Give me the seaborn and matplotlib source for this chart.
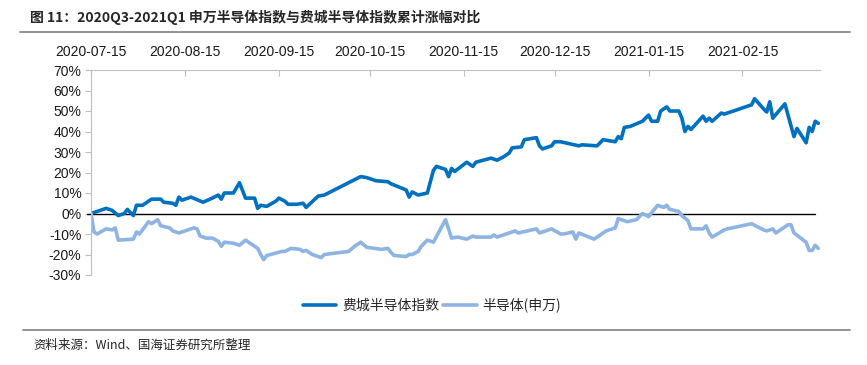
import matplotlib
matplotlib.use("Agg")
import matplotlib.pyplot as plt
import matplotlib.dates as mdates
from matplotlib.ticker import FuncFormatter, FixedLocator
from matplotlib.lines import Line2D
import seaborn as sns
import pandas as pd

# ---------------- data ----------------
sox_dates = [
    "2020-07-15", "2020-07-20", "2020-07-22", "2020-07-24", "2020-07-26", "2020-07-27",
    "2020-07-29", "2020-07-30", "2020-08-01", "2020-08-04", "2020-08-07", "2020-08-08",
    "2020-08-11", "2020-08-12", "2020-08-13", "2020-08-14", "2020-08-17", "2020-08-21",
    "2020-08-24", "2020-08-26", "2020-08-27", "2020-08-28", "2020-08-31", "2020-09-02",
    "2020-09-04", "2020-09-07", "2020-09-08", "2020-09-09", "2020-09-11", "2020-09-14",
    "2020-09-15", "2020-09-17", "2020-09-18", "2020-09-21", "2020-09-23", "2020-09-24",
    "2020-09-28", "2020-09-30", "2020-10-12", "2020-10-14", "2020-10-17", "2020-10-21",
    "2020-10-22", "2020-10-27", "2020-10-28", "2020-10-29", "2020-10-31", "2020-11-03",
    "2020-11-05", "2020-11-06", "2020-11-09", "2020-11-10", "2020-11-11", "2020-11-12",
    "2020-11-16", "2020-11-18", "2020-11-19", "2020-11-24", "2020-11-26", "2020-11-28",
    "2020-11-30", "2020-12-01", "2020-12-04", "2020-12-05", "2020-12-09", "2020-12-10",
    "2020-12-11", "2020-12-14", "2020-12-15", "2020-12-17", "2020-12-23", "2020-12-24",
    "2020-12-29", "2020-12-31", "2021-01-04", "2021-01-05", "2021-01-06", "2021-01-07",
    "2021-01-09", "2021-01-13", "2021-01-15", "2021-01-16", "2021-01-18", "2021-01-19",
    "2021-01-21", "2021-01-22", "2021-01-25", "2021-01-26", "2021-01-27", "2021-01-28",
    "2021-01-29", "2021-02-02", "2021-02-03", "2021-02-04", "2021-02-05", "2021-02-08",
    "2021-02-09", "2021-02-18", "2021-02-19", "2021-02-22", "2021-02-23", "2021-02-24",
    "2021-02-25", "2021-03-01", "2021-03-04", "2021-03-05", "2021-03-08", "2021-03-09",
    "2021-03-10", "2021-03-11", "2021-03-12",
]
sox_values = [
    0.0, 2.5, 1.5, -1.0, 0.0, 2.0,
    -1.0, 4.0, 4.0, 7.0, 7.0, 5.5,
    5.0, 4.0, 8.0, 6.5, 8.0, 5.5,
    7.5, 9.0, 7.0, 10.0, 10.0, 15.0,
    7.5, 7.5, 2.5, 4.0, 3.5, 6.0,
    7.5, 6.0, 4.5, 4.5, 5.0, 3.0,
    8.5, 9.0, 18.0, 17.5, 16.0, 15.5,
    14.5, 11.5, 8.0, 10.5, 9.0, 10.0,
    21.0, 23.0, 21.5, 18.0, 22.0, 20.5,
    25.0, 23.0, 25.0, 27.0, 26.0, 27.5,
    29.5, 32.0, 32.5, 36.0, 37.0, 33.0,
    31.5, 33.0, 35.0, 35.0, 33.0, 33.5,
    33.0, 36.0, 35.0, 37.5, 36.5, 42.0,
    42.5, 45.0, 48.0, 45.0, 45.0, 50.0,
    52.0, 50.0, 50.0, 46.5, 40.0, 42.5,
    41.0, 47.5, 45.0, 46.5, 45.0, 49.0,
    48.5, 53.0, 56.0, 51.0, 49.5, 54.5,
    46.5, 53.5, 37.5, 41.5, 34.5, 42.0,
    40.0, 45.0, 44.0,
]

sw_dates = [
    "2020-07-15", "2020-07-16", "2020-07-17", "2020-07-20", "2020-07-22", "2020-07-23",
    "2020-07-24", "2020-07-29", "2020-07-30", "2020-07-31", "2020-08-03", "2020-08-04",
    "2020-08-06", "2020-08-07", "2020-08-10", "2020-08-11", "2020-08-13", "2020-08-16",
    "2020-08-18", "2020-08-19", "2020-08-20", "2020-08-22", "2020-08-24", "2020-08-26",
    "2020-08-27", "2020-08-28", "2020-08-31", "2020-09-02", "2020-09-04", "2020-09-08",
    "2020-09-09", "2020-09-10", "2020-09-11", "2020-09-16", "2020-09-17", "2020-09-19",
    "2020-09-22", "2020-09-23", "2020-09-24", "2020-09-26", "2020-09-29", "2020-09-30",
    "2020-10-08", "2020-10-10", "2020-10-12", "2020-10-14", "2020-10-19", "2020-10-21",
    "2020-10-22", "2020-10-23", "2020-10-27", "2020-10-28", "2020-10-29", "2020-10-31",
    "2020-11-01", "2020-11-03", "2020-11-05", "2020-11-09", "2020-11-11", "2020-11-13",
    "2020-11-16", "2020-11-18", "2020-11-19", "2020-11-24", "2020-11-25", "2020-11-26",
    "2020-12-02", "2020-12-03", "2020-12-09", "2020-12-10", "2020-12-11", "2020-12-14",
    "2020-12-17", "2020-12-18", "2020-12-21", "2020-12-22", "2020-12-23", "2020-12-28",
    "2021-01-01", "2021-01-04", "2021-01-05", "2021-01-08", "2021-01-11", "2021-01-13",
    "2021-01-15", "2021-01-18", "2021-01-20", "2021-01-21", "2021-01-22", "2021-01-25",
    "2021-01-26", "2021-01-28", "2021-01-29", "2021-02-02", "2021-02-03", "2021-02-04",
    "2021-02-05", "2021-02-09", "2021-02-10", "2021-02-18", "2021-02-22", "2021-02-23",
    "2021-02-25", "2021-02-26", "2021-03-02", "2021-03-03", "2021-03-04", "2021-03-08",
    "2021-03-09", "2021-03-10", "2021-03-11", "2021-03-12",
]
sw_values = [
    0.0, -9.0, -10.0, -7.5, -8.0, -7.0,
    -13.0, -12.5, -9.0, -10.0, -4.0, -5.0,
    -3.0, -6.0, -7.0, -8.5, -9.5, -8.0,
    -7.0, -7.5, -11.0, -12.0, -12.0, -13.5,
    -16.0, -14.0, -14.5, -15.5, -13.0, -17.0,
    -20.0, -22.5, -20.5, -18.5, -18.5, -17.0,
    -17.5, -18.5, -18.0, -20.0, -21.5, -20.0,
    -18.5, -16.0, -14.0, -16.5, -17.5, -17.0,
    -19.0, -20.5, -21.0, -20.0, -20.0, -18.5,
    -16.0, -13.0, -14.0, -3.0, -12.0, -11.5,
    -12.5, -11.0, -11.5, -11.5, -10.5, -11.5,
    -8.5, -9.5, -7.5, -9.5, -9.0, -7.5,
    -10.0, -10.0, -9.0, -12.5, -9.5, -12.5,
    -8.5, -7.0, -2.5, -4.0, -3.0, 0.0,
    -1.5, 4.0, 3.0, 4.0, 2.0, 1.0,
    -1.0, -3.5, -7.5, -7.5, -6.0, -9.5,
    -11.5, -8.0, -7.5, -5.0, -8.0, -8.5,
    -7.5, -9.5, -5.5, -5.5, -9.5, -14.0,
    -18.0, -18.0, -15.5, -17.0,
]

series_names = ["费城半导体指数", "半导体(申万)"]
tick_labels = ["2020-07-15", "2020-08-15", "2020-09-15", "2020-10-15",
               "2020-11-15", "2020-12-15", "2021-01-15", "2021-02-15"]
y_ticks = [-30, -20, -10, 0, 10, 20, 30, 40, 50, 60, 70]

title_text = "图 11：2020Q3-2021Q1 申万半导体指数与费城半导体指数累计涨幅对比"
source_text = "资料来源：Wind、国海证券研究所整理"

# ---------------- table ----------------
df = pd.concat([
    pd.DataFrame({"date": pd.to_datetime(sox_dates), "value": [v / 100 for v in sox_values],
                  "series": series_names[0]}),
    pd.DataFrame({"date": pd.to_datetime(sw_dates), "value": [v / 100 for v in sw_values],
                  "series": series_names[1]}),
], ignore_index=True)

# ---------------- style ----------------
sns.set_style("white")
plt.rcParams["font.family"] = ["Liberation Sans", "Noto Sans CJK SC", "DejaVu Sans"]
cjk = ["Noto Sans CJK SC", "DejaVu Sans"]

colors = {series_names[0]: "#0070C0", series_names[1]: "#8DB4E2"}

fig = plt.figure(figsize=(8.67, 3.65), dpi=100)
ax = fig.add_axes([91 / 867, 1 - 275 / 365, (820 - 91) / 867, (275 - 70) / 365])

sns.lineplot(data=df, x="date", y="value", hue="series", palette=colors,
             hue_order=series_names, linewidth=2.6, ax=ax, legend=False,
             estimator=None, sort=True)

ax.axhline(0, color="black", linewidth=1.0, zorder=1, xmin=-0.005, xmax=0.993, clip_on=False)

x0 = pd.Timestamp("2020-07-15")
x1 = pd.Timestamp("2021-03-12 14:00")
ax.set_xlim(x0, x1)
ax.set_ylim(-0.30, 0.70)

ax.xaxis.tick_top()
ax.xaxis.set_major_locator(FixedLocator(mdates.date2num(pd.to_datetime(tick_labels))))
ax.xaxis.set_major_formatter(FuncFormatter(lambda v, p: mdates.num2date(v).strftime("%Y-%m-%d")))
ax.tick_params(axis="x", which="both", top=True, bottom=False, direction="in",
               length=4, width=0.8, color="#BFBFBF", labelsize=10, pad=8, labelcolor="#1a1a1a")

ax.set_yticks([t / 100 for t in y_ticks])
ax.yaxis.set_major_formatter(FuncFormatter(lambda v, p: f"{v * 100:.0f}%"))
ax.tick_params(axis="y", left=True, direction="out", length=4, width=0.8,
               color="#BFBFBF", labelsize=10, pad=3, labelcolor="#1a1a1a")

for s in ["right", "bottom"]:
    ax.spines[s].set_visible(False)
for s in ["top", "left"]:
    ax.spines[s].set_color("#BFBFBF")
    ax.spines[s].set_linewidth(0.8)

ax.set_xlabel("")
ax.set_ylabel("")
ax.grid(False)

# legend
handles = [Line2D([0], [0], color=colors[n], linewidth=2.6) for n in series_names]
fig.legend(handles, series_names, loc="center", bbox_to_anchor=(432 / 867, 1 - 305 / 365),
           ncol=2, frameon=False, handlelength=2.4, handletextpad=0.4, columnspacing=0.3,
           prop={"family": cjk, "size": 10})

# title, rules, source
fig.text(30 / 867, 1 - 17 / 365, title_text, ha="left", va="center",
         fontsize=10, fontweight="bold", family=cjk)
fig.add_artist(Line2D([20 / 867, 850 / 867], [1 - 32 / 365, 1 - 32 / 365],
                      color="#808080", linewidth=1.2))
fig.add_artist(Line2D([23 / 867, 850 / 867], [1 - 330 / 365, 1 - 330 / 365],
                      color="#808080", linewidth=1.2))
fig.text(33 / 867, 1 - 345 / 365, source_text, ha="left", va="center",
         fontsize=9, family=cjk)

fig.savefig("out.png", dpi=100, facecolor="white")
